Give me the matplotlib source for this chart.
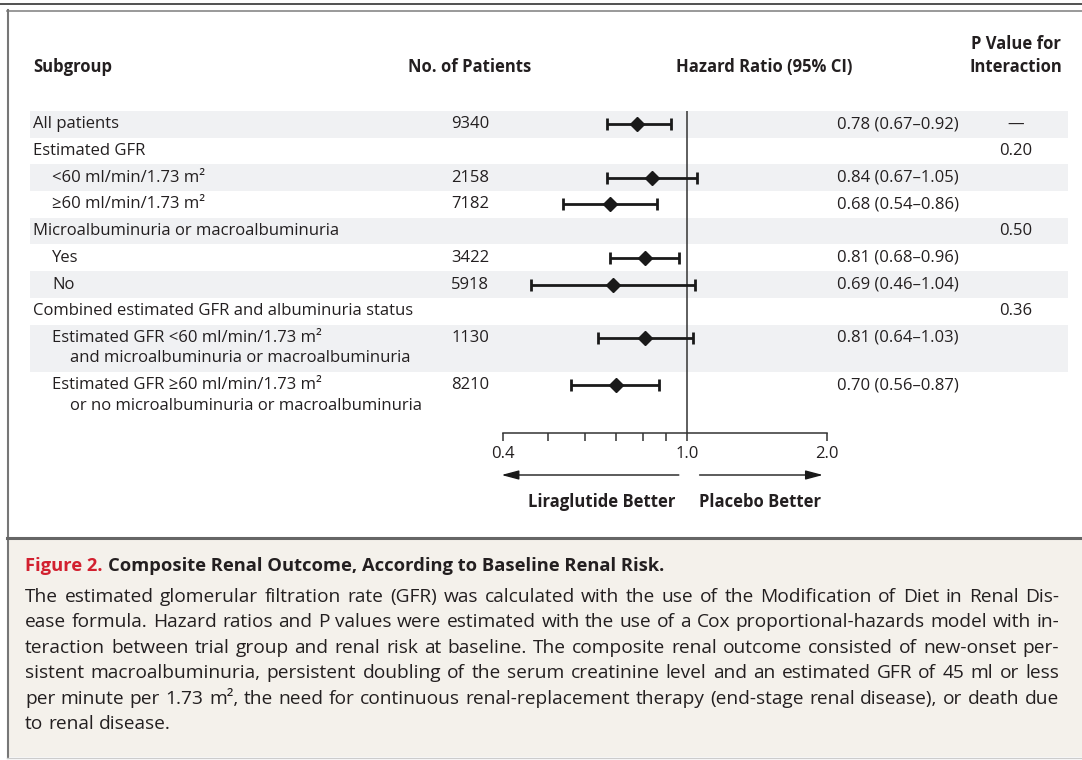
import matplotlib
matplotlib.use('Agg')
import matplotlib.pyplot as plt
from matplotlib.patches import Rectangle
from matplotlib.font_manager import FontProperties
from matplotlib.transforms import blended_transform_factory
from matplotlib.ticker import FixedLocator, NullFormatter

plt.rcParams['font.family'] = ['Open Sans', 'DejaVu Sans']

# table data
label_lines = [
    ['All patients'],
    ['Estimated GFR'],
    ['<60 ml/min/1.73 m\u00b2'],
    ['\u226560 ml/min/1.73 m\u00b2'],
    ['Microalbuminuria or macroalbuminuria'],
    ['Yes'],
    ['No'],
    ['Combined estimated GFR and albuminuria status'],
    ['Estimated GFR <60 ml/min/1.73 m\u00b2', 'and microalbuminuria or macroalbuminuria'],
    ['Estimated GFR \u226560 ml/min/1.73 m\u00b2', 'or no microalbuminuria or macroalbuminuria'],
]
indent = [0, 0, 1, 1, 0, 1, 1, 0, 1, 1]
patients = ['9340', '', '2158', '7182', '', '3422', '5918', '', '1130', '8210']
hr = [0.78, None, 0.84, 0.68, None, 0.81, 0.69, None, 0.81, 0.70]
ci_low = [0.67, None, 0.67, 0.54, None, 0.68, 0.46, None, 0.64, 0.56]
ci_high = [0.92, None, 1.05, 0.86, None, 0.96, 1.04, None, 1.03, 0.87]
p_inter = ['\u2014', '0.20', '', '', '0.50', '', '', '0.36', '', '']

major_ticks = [0.4, 1.0, 2.0]
minor_ticks = [0.5, 0.6, 0.7, 0.8, 0.9]

caption_title = 'Composite Renal Outcome, According to Baseline Renal Risk.'
caption_lines = [
    'The estimated glomerular filtration rate (GFR) was calculated with the use of the Modification of Diet in Renal Dis-',
    'ease formula. Hazard ratios and P values were estimated with the use of a Cox proportional-hazards model with in-',
    'teraction between trial group and renal risk at baseline. The composite renal outcome consisted of new-onset per-',
    'sistent macroalbuminuria, persistent doubling of the serum creatinine level and an estimated GFR of 45 ml or less',
    'per minute per 1.73 m\u00b2, the need for continuous renal-replacement therapy (end-stage renal disease), or death due',
    'to renal disease.',
]

W, H = 1082, 760
fig = plt.figure(figsize=(W / 100, H / 100), dpi=100)
bg = fig.add_axes([0, 0, 1, 1])
bg.set_xlim(0, W)
bg.set_ylim(H, 0)
bg.axis('off')

ink = '#231f20'
fs = 12

# frame lines
bg.plot([0, W], [4, 4], color='#333333', lw=1.2)
bg.plot([7, W], [10.5, 10.5], color='#888888', lw=1.2)
bg.plot([7.5, 7.5], [10, 758], color='#777777', lw=1.5)
bg.add_patch(Rectangle((8, 538), W - 8, 219, fc='#f4f1eb', ec='none'))
bg.plot([7, W], [537.5, 537.5], color='#666666', lw=2.2)
bg.plot([7, W], [757.5, 757.5], color='#cccccc', lw=1)

# headers
bg.text(33, 67, 'Subgroup', fontsize=fs, weight='bold', color=ink, va='center')
bg.text(470, 67, 'No. of Patients', fontsize=fs, weight='bold', color=ink, va='center', ha='center')
bg.text(764, 67, 'Hazard Ratio (95% CI)', fontsize=fs, weight='bold', color=ink, va='center', ha='center')
bg.text(1016, 44, 'P Value for', fontsize=fs, weight='bold', color=ink, va='center', ha='center')
bg.text(1016, 67, 'Interaction', fontsize=fs, weight='bold', color=ink, va='center', ha='center')

# rows
row_h = 26.7
line_gap = 20.5
top = 111
row_y = []
for i, lines in enumerate(label_lines):
    h = row_h if len(lines) == 1 else row_h + line_gap
    if i % 2 == 0:
        bg.add_patch(Rectangle((30, top), 1038, h, fc='#f0f1f3', ec='none', zorder=0))
    y = top + row_h / 2
    row_y.append(y)
    x0 = 33 + 19 * indent[i]
    for k, s in enumerate(lines):
        bg.text(x0 + 18 * k, y + line_gap * k, s, fontsize=fs, color=ink, va='center')
    if patients[i]:
        bg.text(489, y, patients[i], fontsize=fs, color=ink, va='center', ha='right')
    if hr[i] is not None:
        bg.text(837, y, '%.2f (%.2f\u2013%.2f)' % (hr[i], ci_low[i], ci_high[i]),
                fontsize=fs, color=ink, va='center')
    if p_inter[i]:
        bg.text(1016, y, p_inter[i], fontsize=fs, color=ink, va='center', ha='center')
    top += h

# forest plot
axis_y = 433
ax = fig.add_axes([503 / W, 1 - axis_y / H, (827 - 503) / W, (axis_y - 111) / H])
ax.patch.set_alpha(0)
ax.set_xscale('log')
ax.set_xlim(0.4, 2.0)
ax.set_ylim(axis_y, 111)
for s in ['top', 'right', 'left']:
    ax.spines[s].set_visible(False)
ax.spines['bottom'].set_color('#333333')
ax.spines['bottom'].set_linewidth(1.1)
ax.set_yticks([])
ax.xaxis.set_major_locator(FixedLocator(major_ticks))
ax.xaxis.set_minor_locator(FixedLocator(minor_ticks))
ax.set_xticklabels(['%.1f' % t for t in major_ticks])
ax.xaxis.set_minor_formatter(NullFormatter())
ax.tick_params(axis='x', which='both', direction='out', length=6, width=1.1,
               color='#333333', labelsize=fs, labelcolor=ink, pad=3)
ax.axvline(1.0, color='#333333', lw=1.1)

for i in range(len(hr)):
    if hr[i] is None:
        continue
    ax.errorbar(hr[i], row_y[i], xerr=[[hr[i] - ci_low[i]], [ci_high[i] - hr[i]]],
                fmt='D', ms=7.5, color='#1a1a1a', ecolor='#1a1a1a',
                elinewidth=2, capsize=4.6, capthick=2, clip_on=False)

# direction arrows
tr = blended_transform_factory(ax.transData, bg.transData)
arrow = dict(arrowstyle='-|>,head_length=0.75,head_width=0.2', color='#1a1a1a', lw=1.0,
             mutation_scale=14, shrinkA=0, shrinkB=0)
bg.annotate('', xy=(0.397, 475), xytext=(0.958, 475), xycoords=tr, textcoords=tr, arrowprops=arrow)
bg.annotate('', xy=(1.96, 475), xytext=(1.062, 475), xycoords=tr, textcoords=tr, arrowprops=arrow)
bg.text(675, 502, 'Liraglutide Better', fontsize=fs, weight='bold', color=ink, va='center', ha='right')
bg.text(699, 502, 'Placebo Better', fontsize=fs, weight='bold', color=ink, va='center', ha='left')

# caption
title_fs = 13.2
cap_fs = 13.8
t1 = bg.text(25, 566, 'Figure 2.', fontsize=title_fs, weight='bold', color='#d2202f', va='center')
renderer = fig.canvas.get_renderer()
w1 = t1.get_window_extent(renderer).width
bg.text(25 + w1 + 5, 566, caption_title, fontsize=title_fs, weight='bold', color=ink, va='center')

fp = FontProperties(family=['Open Sans', 'DejaVu Sans'], size=cap_fs)
x_left, x_right = 25, 1059
for j, line in enumerate(caption_lines):
    y = 597 + 25.4 * j
    words = line.split(' ')
    widths = [renderer.get_text_width_height_descent(w, fp, ismath=False)[0] for w in words]
    if j == len(caption_lines) - 1:
        gap = renderer.get_text_width_height_descent('a b', fp, ismath=False)[0] - \
            renderer.get_text_width_height_descent('ab', fp, ismath=False)[0]
    else:
        gap = (x_right - x_left - sum(widths)) / (len(words) - 1)
    x = x_left
    for w, wd in zip(words, widths):
        bg.text(x, y, w, fontproperties=fp, color=ink, va='center')
        x += wd + gap

fig.savefig('out.png', dpi=100)
